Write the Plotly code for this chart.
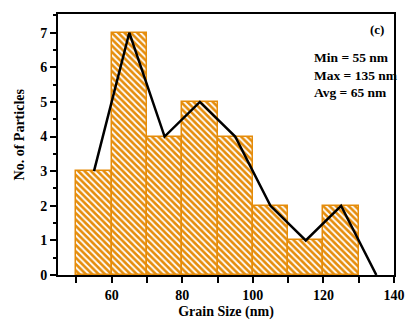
import plotly.graph_objects as go

bin_centers = [55, 65, 75, 85, 95, 105, 115, 125]
counts = [3, 7, 4, 5, 4, 2, 1, 2]
line_x = [55, 65, 75, 85, 95, 105, 115, 125, 135]
line_y = [3, 7, 4, 5, 4, 2, 1, 2, 0]
x_tickvals = [50, 60, 70, 80, 90, 100, 110, 120, 130, 140]
x_ticktext = ["", "60", "", "80", "", "100", "", "120", "", "140"]
stats = ["Min = 55 nm", "Max = 135 nm", "Avg = 65 nm"]

orange = "#E58C0A"
font = "Liberation Serif"

fig = go.Figure()
fig.add_trace(go.Bar(
    x=bin_centers, y=counts, width=10,
    marker=dict(color=orange, line=dict(color=orange, width=1.5),
                pattern=dict(shape="\\", fgcolor="white", bgcolor=orange,
                             size=4.5, solidity=0.4, fillmode="replace")),
    showlegend=False,
))
fig.add_trace(go.Scatter(
    x=line_x, y=line_y, mode="lines",
    line=dict(color="black", width=2.5), showlegend=False,
))

fig.update_layout(
    width=417, height=329,
    margin=dict(l=58, r=12, t=13, b=41),
    paper_bgcolor="white", plot_bgcolor="white",
    bargap=0,
    font=dict(family=font, size=13, color="black"),
    xaxis=dict(range=[44.8, 140], tickvals=x_tickvals, ticktext=x_ticktext,
               ticks="outside", ticklen=6, tickwidth=1.5, tickcolor="black",
               showline=True, linewidth=2, linecolor="black", mirror=True,
               showgrid=False, zeroline=False,
               tickfont=dict(family=font, size=14, weight="bold"),
               title=dict(text="<b>Grain Size (nm)</b>", standoff=4,
                          font=dict(family=font, size=14))),
    yaxis=dict(range=[0, 7.54], dtick=1, tick0=0,
               ticks="outside", ticklen=6, tickwidth=1.5, tickcolor="black",
               minor=dict(dtick=0.5, ticks="outside", ticklen=3, tickwidth=1.5, tickcolor="black"),
               showline=True, linewidth=2, linecolor="black", mirror=True,
               showgrid=False, zeroline=False,
               tickfont=dict(family=font, size=14, weight="bold")),
)

fig.add_annotation(text="<b>No. of Particles</b>", textangle=-90,
                   xref="paper", yref="paper", x=-0.115, y=0.54,
                   xanchor="center", yanchor="middle", showarrow=False,
                   font=dict(family=font, size=14))
fig.add_annotation(text="<b>(c)</b>", xref="paper", yref="paper",
                   x=0.975, y=0.94, xanchor="right", yanchor="middle",
                   showarrow=False, font=dict(family=font, size=13))
fig.add_annotation(text="<br>".join(f"<b>{s}</b>" for s in stats),
                   xref="paper", yref="paper", x=0.755, y=0.765,
                   xanchor="left", yanchor="middle", align="left",
                   showarrow=False, font=dict(family=font, size=13.5))

fig.write_html("out.html")
